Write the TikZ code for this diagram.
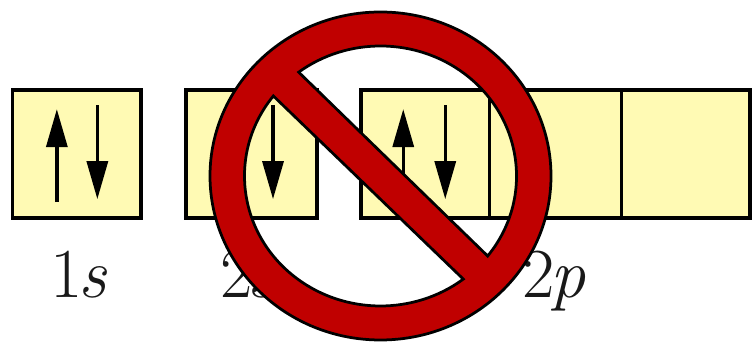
\documentclass[tikz,border=0pt]{standalone}
\usepackage{xcolor}
\usetikzlibrary{arrows.meta,positioning,calc}
\definecolor{cellfill}{HTML}{FFFAB4}
\definecolor{signred}{HTML}{C00000}

\begin{document}
\begin{tikzpicture}[
  x=0.2mm,y=0.2mm,
  cell/.style={draw=black,fill=cellfill,line width=0.72mm,minimum height=25.66mm,
               minimum width=25.66mm,inner sep=0pt,outer sep=0pt},
  spin/.style={-{Triangle[length=7.6mm,width=4.2mm]},line width=0.66mm,black},
  orb/.style={anchor=base,inner sep=0pt,font=\fontsize{40}{44}\selectfont,text=black!90}]
\useasboundingbox (0,0) rectangle (755,346);
\node[cell] (b1) at (76.85,191.85) {};
\node[cell,minimum width=26.2mm] (b2) at (251.5,191.85) {};
\node[cell] (p1) at (425.25,191.85) {};
\node[cell,minimum width=26.4mm,right=0pt of p1] (p2) {};
\node[cell,right=0pt of p2] (p3) {};
% spins
\draw[spin] ($(b1.center)+(-20,-48)$) -- ($(b1.center)+(-20,45)$);
\draw[spin] ($(b1.center)+(20.5,49)$) -- ($(b1.center)+(20.5,-45)$);
\draw[spin] ($(b2.center)+(21.5,49)$) -- ($(b2.center)+(21.5,-45)$);
\draw[spin] ($(p1.center)+(-22,-48)$) -- ($(p1.center)+(-22,45)$);
\draw[spin] ($(p1.center)+(20,49)$) -- ($(p1.center)+(20,-45)$);
\node[orb] (l1) at ($(b1.south)+(2,-79)$) {1\kern-2.5pt\textit{s}};
\node[orb] (l2) at ($(b2.south)+(-3,-79)$) {2\kern-2.5pt\textit{s}};
\node[orb] (l3) at ($(p2.south)+(-1,-79)$) {2\kern-2.5pt\textit{p}};
% prohibition sign
\coordinate (ctr) at (380.5,170);
\draw[fill=signred,draw=black,line width=0.55mm,even odd rule]
  ($(ctr)+(170.5,0)$) arc[start angle=0,end angle=360,x radius=170.5,y radius=164]
  ($(ctr)+(142:136 and 130)$) arc[start angle=142,end angle=307.5,x radius=136,y radius=130] -- cycle
  ($(ctr)+(-38:136 and 130)$) arc[start angle=-38,end angle=127,x radius=136,y radius=130] -- cycle;
\end{tikzpicture}
\end{document}
